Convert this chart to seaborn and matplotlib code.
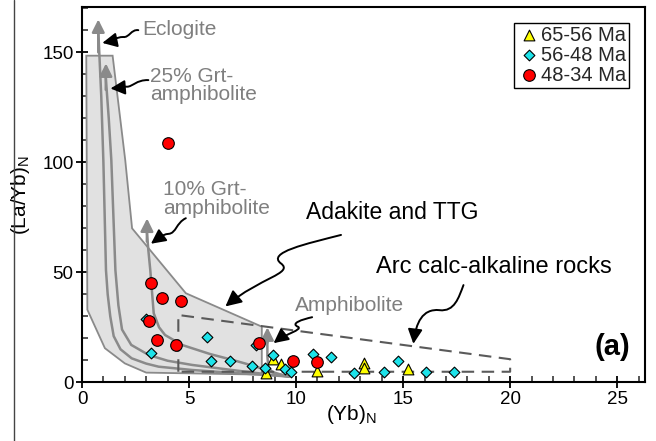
import numpy as np
import pandas as pd
import matplotlib
matplotlib.use("Agg")
import matplotlib.pyplot as plt
import seaborn as sns
from matplotlib.path import Path
from matplotlib.patches import FancyArrowPatch, Polygon
from matplotlib.lines import Line2D
from matplotlib.ticker import MultipleLocator

# ---------------- data ----------------
groups = ["65-56 Ma", "56-48 Ma", "48-34 Ma"]

yb_6556 = [8.6, 8.91, 9.28, 11.0, 13.18, 13.18, 15.25]
layb_6556 = [4.1, 10.8, 8.3, 5.3, 8.9, 6.4, 5.9]

yb_5648 = [2.98, 3.21, 5.86, 6.02, 6.9, 7.93, 8.15, 8.55, 8.92, 9.49, 9.74,
           10.78, 11.62, 12.7, 14.13, 14.78, 16.07, 17.4]
layb_5648 = [28.8, 13.5, 20.5, 9.5, 9.6, 7.2, 16.8, 6.6, 12.4, 5.9, 4.9,
             12.7, 11.3, 4.1, 4.8, 9.8, 4.8, 4.8]

yb_4834 = [4.03, 3.22, 3.75, 4.61, 3.15, 3.49, 4.39, 8.27, 9.85, 11.0]
layb_4834 = [108.6, 45.3, 38.2, 37.0, 27.9, 19.2, 17.0, 18.0, 9.7, 9.4]

# Adakite / TTG field outline
field_x = [0.2, 1.43, 2.02, 2.34, 4.85, 8.4, 8.4, 3.0, 2.0, 1.07, 0.25]
field_y = [148.5, 148.5, 101, 70, 40.5, 25.3, 3.5, 4.4, 8.6, 15.5, 33.0]

# Arc calc-alkaline field (dashed)
arc_x = [4.5, 4.5, 20.0, 20.0, 4.5]
arc_y = [4.8, 30.6, 10.5, 4.8, 4.8]

# melting trends
ecl_x = [0.76, 0.9, 1.0, 1.12, 1.2, 1.32, 1.48, 1.8, 2.32, 3.0, 3.58, 5.14, 7.0, 8.5, 9.7]
ecl_y = [160, 130, 100, 51, 40, 30, 21, 15, 10.9, 8.5, 7.1, 5.6, 4.3, 3.4, 2.6]
g25_x = [1.1, 1.25, 1.37, 1.56, 1.7, 1.87, 2.3, 3.12, 4.0, 5.14, 7.0, 8.5, 9.7]
g25_y = [140, 120, 101, 51, 35, 24, 17, 12.4, 9.8, 7.9, 5.6, 3.8, 2.6]
g10_x = [3.02, 3.1, 3.19, 3.35, 3.6, 3.88, 4.67, 5.14, 6.0, 7.06, 8.0, 8.63, 9.2, 9.7]
g10_y = [70, 60, 51, 31.4, 25, 21.5, 17, 15.5, 12.8, 10.1, 7.5, 5.5, 3.8, 2.6]
amp_x = [8.66, 8.66, 8.7, 8.9, 9.2, 9.7]
amp_y = [22, 12, 7, 4.5, 3.2, 2.6]

# ---------------- style ----------------
sns.set_theme(style="ticks")
plt.rcParams["font.family"] = ["Liberation Sans", "DejaVu Sans"]
plt.rcParams["mathtext.fontset"] = "custom"
plt.rcParams["mathtext.rm"] = "Liberation Sans"
plt.rcParams["mathtext.it"] = "Liberation Sans:italic"
plt.rcParams["mathtext.bf"] = "Liberation Sans:bold"

GRAY = "#8a8a8a"
TXTGRAY = "#7f7f7f"

fig = plt.figure(figsize=(6.56, 4.41), dpi=100)
ax = fig.add_axes([82 / 656, 1 - 382.3 / 441, (645 - 82) / 656, (382.3 - 7.3) / 441])

# field
ax.add_patch(Polygon(np.column_stack([field_x, field_y]), closed=True,
                     facecolor="#e1e1e1", edgecolor=GRAY, lw=1.3, zorder=1))

# trend curves
for xs, ys in [(ecl_x, ecl_y), (g25_x, g25_y), (g10_x, g10_y), (amp_x, amp_y)]:
    ax.plot(xs, ys, color=GRAY, lw=1.8, zorder=2, solid_capstyle="butt")

# arrowheads for trend curves
for (xb, yb_), (xt, yt) in [((0.76, 150), (0.76, 165)),
                            ((1.11, 133), (1.12, 145)),
                            ((3.03, 64), (3.04, 74.5)),
                            ((8.66, 18), (8.66, 25))]:
    ax.add_patch(FancyArrowPatch((xb, yb_), (xt, yt), arrowstyle="-|>",
                                 mutation_scale=19, color=GRAY, lw=1.8,
                                 shrinkA=0, shrinkB=0, zorder=2))

# dashed arc field
ax.plot(arc_x, arc_y, color="#5a5a5a", lw=1.5, ls=(0, (6, 3.6)), zorder=2.5)

# squiggly annotation arrows
def squiggle(pts, ms=22):
    verts = [pts[0]]
    codes = [Path.MOVETO]
    for p in pts[1:]:
        verts.append(p)
        codes.append(Path.CURVE4)
    ax.add_patch(FancyArrowPatch(path=Path(verts, codes), arrowstyle="-|>",
                                 mutation_scale=ms, color="black", lw=1.4,
                                 transform=ax.transData, zorder=3))

squiggle([(2.63, 160.1), (2.3, 160.6), (2.2, 156.6), (1.93, 157.0),
          (1.6, 157.0), (1.3, 155.0), (0.95, 154.3)])
squiggle([(3.1, 137.4), (2.55, 137.6), (2.35, 134.3), (2.1, 134.4),
          (1.8, 134.5), (1.6, 133.8), (1.33, 133.6)])
squiggle([(4.85, 74.6), (4.4, 72.5), (4.4, 67.8), (4.05, 67.5),
          (3.7, 67.2), (3.5, 65.0), (3.22, 63.0)])
squiggle([(12.1, 67.0), (10.5, 63.0), (8.6, 59.0), (9.3, 54.0),
          (9.9, 49.5), (8.3, 47.5), (6.7, 34.5)], ms=24)
squiggle([(10.75, 29.6), (10.3, 28.6), (9.7, 26.8), (10.1, 25.2),
          (10.3, 23.8), (9.5, 22.0), (8.95, 17.8)], ms=22)
squiggle([(17.82, 44.2), (17.6, 38.5), (17.4, 32.0), (16.7, 32.8),
          (15.9, 33.6), (15.6, 27.0), (15.48, 17.5)], ms=22)

# data points
sns.scatterplot(x=yb_6556, y=layb_6556, marker="^", s=60, color="#ffff00",
                edgecolor="black", linewidth=0.8, label=groups[0], ax=ax, zorder=5)
sns.scatterplot(x=yb_5648, y=layb_5648, marker="D", s=30, color="#1de3ea",
                edgecolor="black", linewidth=0.8, label=groups[1], ax=ax, zorder=5)
sns.scatterplot(x=yb_4834, y=layb_4834, marker="o", s=70, color="#ff0000",
                edgecolor="black", linewidth=0.8, label=groups[2], ax=ax, zorder=5)

# labels on plot
ax.text(2.8, 160.5, "Eclogite", color=TXTGRAY, fontsize=15, va="center", ha="left")
ax.text(3.18, 135.0, "25% Grt-\namphibolite", color=TXTGRAY, fontsize=15,
        va="center", ha="left", linespacing=0.95)
ax.text(3.8, 83.3, "10% Grt-\namphibolite", color=TXTGRAY, fontsize=15,
        va="center", ha="left", linespacing=0.95)
ax.text(9.95, 34.7, "Amphibolite", color=TXTGRAY, fontsize=15, va="center", ha="left")
ax.text(10.45, 77.4, "Adakite and TTG", color="black", fontsize=16.5, va="center", ha="left")
ax.text(13.75, 52.2, "Arc calc-alkaline rocks", color="black", fontsize=17, va="center", ha="left")
ax.text(23.95, 16.2, "(a)", color="black", fontsize=21, fontweight="bold",
        va="center", ha="left")

# axes
ax.set_xlim(0, 26.3)
ax.set_ylim(0, 170.5)
ax.set_xticks([0, 5, 10, 15, 20, 25])
ax.set_yticks([0, 50, 100, 150])
ax.xaxis.set_minor_locator(MultipleLocator(1))
ax.yaxis.set_minor_locator(MultipleLocator(10))
ax.tick_params(which="major", direction="inout", length=8, width=1.3,
               labelsize=13.5, colors="black", pad=2)
ax.tick_params(which="minor", direction="in", length=4, width=1.1)
for sp in ax.spines.values():
    sp.set_visible(True)
    sp.set_linewidth(1.5)
    sp.set_color("black")

ax.set_xlabel("(Yb)$_\\mathrm{N}$", fontsize=15, color="black")
ax.set_ylabel("(La/Yb)$_\\mathrm{N}$", fontsize=15, color="black")
ax.xaxis.label.set_va("center")
ax.yaxis.label.set_va("center")
ax.xaxis.set_label_coords(0.478, -0.087)
ax.yaxis.set_label_coords(-0.11, 0.5)

leg = ax.legend(loc="upper right", bbox_to_anchor=(0.972, 0.959), frameon=True,
                fancybox=False, edgecolor="black", framealpha=1, fontsize=14.5,
                handletextpad=0.0, borderpad=0.15, labelspacing=0.05,
                handlelength=1.2, borderaxespad=0)
leg.get_frame().set_linewidth(1.0)

fig.add_artist(Line2D([13.5 / 656] * 2, [0, 1], color="#444444", lw=1.0,
                      transform=fig.transFigure))

fig.savefig("out.png", dpi=100)
